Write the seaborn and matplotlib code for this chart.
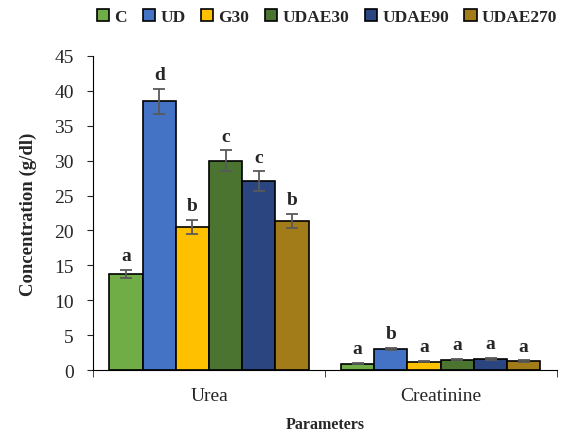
import pandas as pd
import seaborn as sns
import matplotlib.pyplot as plt

# values
params = ["Urea", "Creatinine"]
groups = ["C", "UD", "G30", "UDAE30", "UDAE90", "UDAE270"]
urea = [13.8, 38.5, 20.5, 30.0, 27.1, 21.4]
urea_err = [0.6, 1.8, 1.0, 1.5, 1.4, 1.0]
creat = [0.9, 3.0, 1.2, 1.5, 1.6, 1.3]
creat_err = [0.1, 0.15, 0.1, 0.1, 0.15, 0.1]
urea_letters = ["a", "d", "b", "c", "c", "b"]
creat_letters = ["a", "b", "a", "a", "a", "a"]
colors = ["#70AD47", "#4472C4", "#FFC000", "#4A7430", "#2A4580", "#A27C18"]

rows = []
for p, vals, errs, lets in [("Urea", urea, urea_err, urea_letters),
                            ("Creatinine", creat, creat_err, creat_letters)]:
    for g, v, e, l in zip(groups, vals, errs, lets):
        rows.append({"Parameter": p, "Group": g, "Value": v, "Err": e, "Letter": l})
df = pd.DataFrame(rows)

sns.set_style("white")
plt.rcParams["font.family"] = ["Liberation Serif", "DejaVu Serif"]

fig = plt.figure(figsize=(5.65, 4.35), dpi=100)
ax = fig.add_axes([0.165, 0.147, 0.82, 0.722])

sns.barplot(data=df, x="Parameter", y="Value", hue="Group", order=params,
            hue_order=groups, palette=colors, saturation=1, width=0.86,
            edgecolor="black", linewidth=1.2, errorbar=None, ax=ax)

# error bars and significance letters
for i, g in enumerate(groups):
    cont = ax.containers[i]
    for j, bar in enumerate(cont):
        row = df[(df.Group == g) & (df.Parameter == params[j])].iloc[0]
        xc = bar.get_x() + bar.get_width() / 2
        ax.errorbar(xc, row.Value, yerr=row.Err, color="#595959", capsize=4.5,
                    elinewidth=1.3, capthick=1.3)
        ax.text(xc, row.Value + row.Err + 0.8, row.Letter, ha="center",
                va="bottom", fontsize=14, fontweight="bold")

ax.set_ylim(0, 45)
ax.set_xlim(-0.5, 1.47)
ax.set_yticks(range(0, 46, 5))
ax.set_xlabel("Parameters", fontsize=11.5, fontweight="bold", labelpad=8)
ax.set_ylabel("Concentration (g/dl)", fontsize=13.5, fontweight="bold", labelpad=12)
ax.tick_params(axis="y", labelsize=14, left=True, length=4, pad=10)
ax.tick_params(axis="x", labelsize=14, bottom=False, pad=9)
ax.set_xticks([-0.5, 0.5, 1.5], minor=True)
ax.tick_params(axis="x", which="minor", bottom=True, length=5)
for s in ["top", "right"]:
    ax.spines[s].set_visible(False)
ax.spines["left"].set_color("black")
ax.spines["bottom"].set_color("black")

ax.legend(loc="upper center", bbox_to_anchor=(0.505, 1.2), ncol=6, frameon=False,
          prop={"weight": "bold", "size": 12.5}, handlelength=0.7, handleheight=0.7,
          handletextpad=0.3, columnspacing=0.9)

fig.savefig("out.png", dpi=100)
